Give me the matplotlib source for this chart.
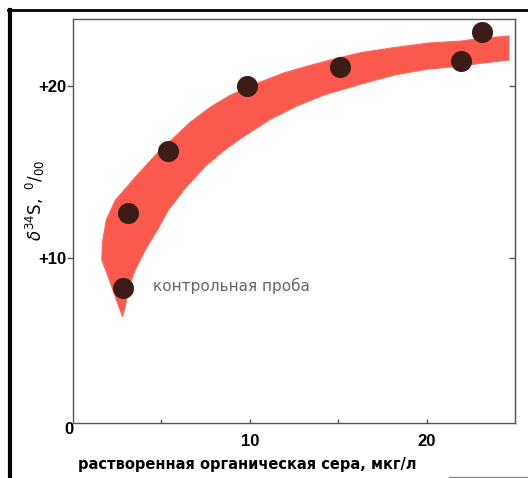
import matplotlib
matplotlib.use('Agg')
import matplotlib.pyplot as plt
from matplotlib.lines import Line2D

plt.rcParams['font.family'] = ['Liberation Sans', 'DejaVu Sans']
plt.rcParams['mathtext.fontset'] = 'dejavusans'

# measured samples: dissolved organic sulphur (ug/l) vs delta 34S (per mille)
sulfur = [2.80, 3.13, 5.38, 9.83, 15.11, 21.93, 23.13]
delta34 = [8.24, 12.63, 16.24, 20.02, 21.12, 21.45, 23.12]

# outline of the trend band: upper edge from the tip to the right end
band_upper_x = [2.80, 2.39, 1.91, 1.63, 1.66, 1.88, 2.40, 3.15, 3.70, 4.77,
                5.80, 6.65, 7.78, 8.92, 10.45, 11.93, 13.47, 15.00, 16.31,
                18.18, 20.11, 21.99, 22.95, 24.66]
band_upper_y = [6.59, 7.75, 9.13, 9.88, 10.87, 12.21, 13.37, 14.25, 14.90, 16.10,
                17.09, 17.91, 18.78, 19.48, 20.17, 20.76, 21.22, 21.63, 21.95,
                22.24, 22.50, 22.62, 22.76, 22.91]
# lower edge from the right end back to the tip
band_lower_x = [24.66, 22.95, 21.99, 20.11, 18.18, 16.31, 14.20, 12.67, 11.19,
                9.60, 8.58, 7.50, 6.36, 5.40, 4.77, 4.09, 3.52, 3.15, 2.95]
band_lower_y = [21.51, 21.31, 21.16, 20.99, 20.64, 20.12, 19.48, 18.84, 18.08,
                17.03, 16.28, 15.35, 14.07, 12.79, 11.63, 10.47, 9.30, 8.31, 7.15]

x_ticks = [5, 10, 15, 20]
x_tick_labels = ['', '10', '', '20']
y_ticks = [10, 20]
y_tick_labels = ['+10', '+20']

fig = plt.figure(figsize=(5.28, 4.78), dpi=100)
ax = fig.add_axes([0.1383, 0.1151, 0.8371, 0.8452])

ax.fill(band_upper_x + band_lower_x, band_upper_y + band_lower_y,
        color='#fa5a4e', edgecolor='#fa6a5e', linewidth=0.8,
        joinstyle='round', zorder=1)
ax.scatter(sulfur, delta34, s=230, color='#3b1c17', zorder=3, linewidths=0)

ax.text(4.55, 8.37, 'контрольная проба', fontsize=11, color='#666666',
        va='center', ha='left', family='DejaVu Sans')

ax.set_xlim(0, 25)
ax.set_ylim(0.4, 23.9)

ax.set_xticks(x_ticks)
ax.set_xticklabels(x_tick_labels)
ax.set_yticks(y_ticks)
ax.set_yticklabels(y_tick_labels)
ax.tick_params(axis='x', direction='in', length=3, width=1, pad=8,
               labelsize=12, colors='#555555', labelcolor='black')
ax.tick_params(axis='y', direction='out', length=4, width=1, pad=1,
               labelsize=12, colors='#555555', labelcolor='black')
for lbl in ax.get_xticklabels() + ax.get_yticklabels():
    lbl.set_fontweight('bold')

# inward ticks on the right-hand frame, no labels
right = ax.secondary_yaxis('right')
right.set_yticks(y_ticks)
right.tick_params(direction='in', length=4, width=1, colors='#555555',
                  labelright=False)
right.spines['right'].set_color('#555555')

# zero at the corner sits off the axis line
ax.text(0, 0, '0', transform=ax.transData, ha='right', va='center',
        fontsize=12, fontweight='bold', clip_on=False)

for side in ['left', 'right', 'top', 'bottom']:
    ax.spines[side].set_color('#555555')
    ax.spines[side].set_linewidth(1)

ax.set_xlabel('растворенная органическая сера, мкг/л', fontsize=10.5,
              fontweight='bold', family='DejaVu Sans')
ax.xaxis.set_label_coords(0.394, -0.084)
ax.set_ylabel(r'$\delta^{34}\mathrm{S},\ ^{0}/_{00}$', fontsize=12)
ax.yaxis.set_label_coords(-0.059, 0.552)

# page frame lines
fig.add_artist(Line2D([0.018, 0.018], [0.0, 0.98], transform=fig.transFigure,
                      color='black', linewidth=3))
fig.add_artist(Line2D([0.015, 1.0], [0.979, 0.979], transform=fig.transFigure,
                      color='black', linewidth=2))
fig.add_artist(Line2D([0.85, 1.0], [0.003, 0.003], transform=fig.transFigure,
                      color='#888888', linewidth=1))

plt.savefig('out.png', dpi=100)
plt.close()
